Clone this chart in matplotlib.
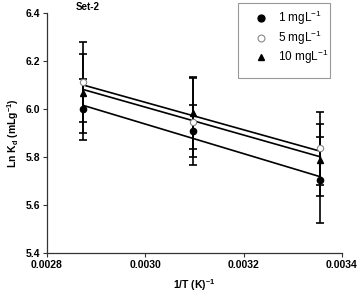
import numpy as np
import matplotlib
matplotlib.use("Agg")
import matplotlib.pyplot as plt
from matplotlib.patches import Rectangle

plt.rcParams['font.family'] = ['Liberation Sans', 'DejaVu Sans']
plt.rcParams['mathtext.default'] = 'regular'

# temperatures 348, 323, 298 K
inv_T = [1 / 348.0, 1 / 323.0, 1 / 298.0]

lnkd_1 = [5.999, 5.908, 5.704]
err_1 = [0.128, 0.109, 0.178]
lnkd_5 = [6.114, 5.947, 5.836]
err_5 = [0.167, 0.181, 0.151]
lnkd_10 = [6.065, 5.982, 5.787]
err_10 = [0.166, 0.150, 0.151]

labels = ['1 mgL$^{-1}$', '5 mgL$^{-1}$', '10 mgL$^{-1}$']

fig = plt.figure(figsize=(3.59, 2.95), dpi=100)
ax = fig.add_axes([47 / 359, 1 - 253 / 295, 295 / 359, 240 / 295])

x = np.array(inv_T)
series = [
    (lnkd_1, err_1, dict(marker='o', mfc='black', mec='black')),
    (lnkd_5, err_5, dict(marker='o', mfc='white', mec='#888888', mew=0.8)),
    (lnkd_10, err_10, dict(marker='^', mfc='black', mec='black')),
]

handles = []
for (y, e, style), lab in zip(series, labels):
    y = np.array(y)
    ax.errorbar(x, y, yerr=e, fmt='none', ecolor='black', elinewidth=1.2,
                capsize=3, capthick=1.2, zorder=2)
    k, b = np.polyfit(x, y, 1)
    ax.plot(x, k * x + b, color='black', lw=1.2, zorder=3)
    h, = ax.plot(x, y, ls='none', ms=4.5, zorder=4, **style)
    handles.append(h)

ax.set_xlim(0.0028, 0.0034)
ax.set_ylim(5.4, 6.4)
ax.set_xticks([0.0028, 0.0030, 0.0032, 0.0034])
ax.set_xticklabels(['0.0028', '0.0030', '0.0032', '0.0034'])
ax.set_yticks([5.4, 5.6, 5.8, 6.0, 6.2, 6.4])
ax.set_yticklabels(['5.4', '5.6', '5.8', '6.0', '6.2', '6.4'])

for s in ['top', 'right']:
    ax.spines[s].set_visible(False)
for s in ['left', 'bottom']:
    ax.spines[s].set_color('#333333')
    ax.spines[s].set_linewidth(0.9)
ax.tick_params(direction='out', length=3, width=0.8, color='#333333',
               labelsize=7.5, pad=2)
for t in ax.get_xticklabels() + ax.get_yticklabels():
    t.set_fontweight('bold')

ax.set_xlabel('1/T (K)$^{-1}$', fontsize=7.5, fontweight='bold', labelpad=5)
ax.set_ylabel('Ln K$_d$ (mLg$^{-1}$)', fontsize=7.5, fontweight='bold', labelpad=3)

fig.text(88 / 359, 1 - 7 / 295, 'Set-2', fontsize=7, fontweight='bold',
         ha='center', va='center')

# legend box
ax.add_patch(Rectangle((0.647, 0.729), 0.312, 0.313, transform=ax.transAxes,
                       fill=False, edgecolor='#999999', lw=0.8, clip_on=False))
ax.legend(handles, labels, loc='upper left', bbox_to_anchor=(0.675, 1.055),
          frameon=False, fontsize=8.5, handlelength=1.0, handletextpad=0.9,
          labelspacing=0.1, borderpad=0.3, markerscale=1.1)

fig.savefig('out.png', dpi=100)
